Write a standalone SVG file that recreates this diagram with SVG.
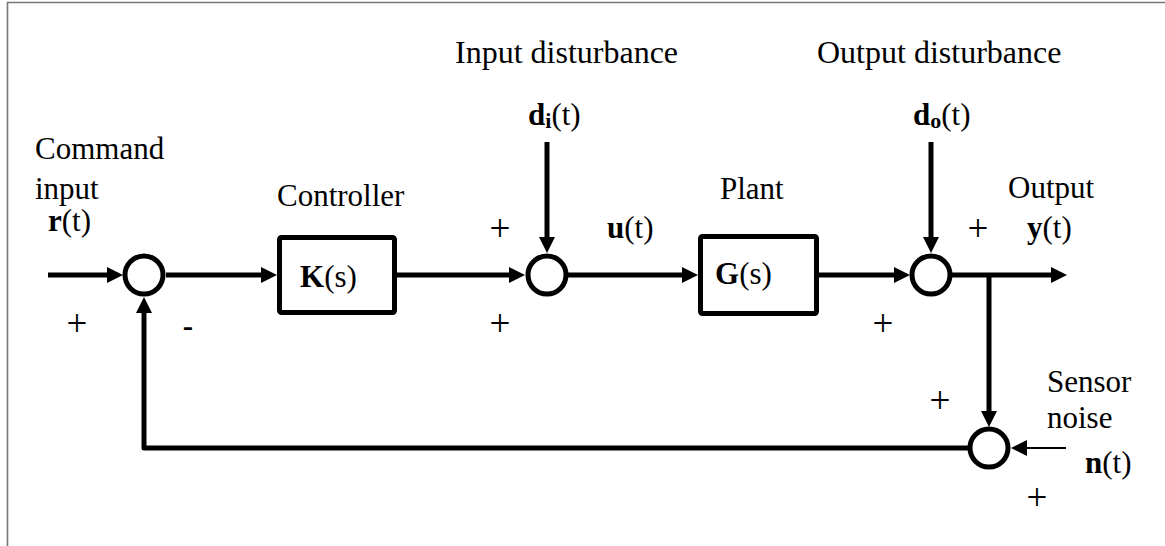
<svg xmlns="http://www.w3.org/2000/svg" width="1165" height="546" viewBox="0 0 1165 546">
<defs>
<marker id="arr" viewBox="0 0 16 16" refX="8" refY="8" markerWidth="16" markerHeight="16" markerUnits="userSpaceOnUse" orient="auto">
<path d="M0,0 L16,8 L0,16 z" fill="#000"/>
</marker>
<style>
text{font-family:"Liberation Serif","Times New Roman",serif;font-size:31px;fill:#000}
.b{font-weight:bold}
.big{font-size:32px}
.sign{font-size:37px}
.minus{font-size:31px;font-weight:bold}
.blk{fill:#fff;stroke:#000;stroke-width:5}
.sum{fill:#fff;stroke:#000;stroke-width:5}
.w{fill:none;stroke:#000;stroke-width:5}
.thin{fill:none;stroke:#000;stroke-width:2}
</style>
</defs>
<rect width="1165" height="546" fill="#fff"/>
<path d="M7.5,546 V2.5 H1165" fill="none" stroke="#777" stroke-width="1.6"/>

<g id="connectors">
<line class="w" x1="48" y1="275" x2="115" y2="275" marker-end="url(#arr)"/>
<line class="w" x1="166" y1="275" x2="269" y2="275" marker-end="url(#arr)"/>
<line class="w" x1="397" y1="275" x2="517" y2="275" marker-end="url(#arr)"/>
<line class="w" x1="547" y1="142" x2="547" y2="245" marker-end="url(#arr)"/>
<line class="w" x1="568" y1="275" x2="690" y2="275" marker-end="url(#arr)"/>
<line class="w" x1="819" y1="275" x2="902" y2="275" marker-end="url(#arr)"/>
<line class="w" x1="931" y1="142" x2="931" y2="245" marker-end="url(#arr)"/>
<line class="w" x1="952" y1="275" x2="1059" y2="275" marker-end="url(#arr)"/>
<line class="w" x1="989" y1="275" x2="989" y2="419" marker-end="url(#arr)"/>
<line class="thin" x1="1066" y1="448" x2="1019" y2="448" marker-end="url(#arr)"/>
<polyline class="w" points="968,448 144,448 144,305" stroke-linejoin="round" marker-end="url(#arr)"/>
</g>

<g id="sum1"><circle class="sum" cx="144" cy="275" r="19"/></g>
<g id="sum2"><circle class="sum" cx="547" cy="275" r="19"/></g>
<g id="sum3"><circle class="sum" cx="931" cy="275" r="19"/></g>
<g id="sum4"><circle class="sum" cx="989" cy="448" r="19"/></g>

<g id="controller">
<rect class="blk" x="279.5" y="237.5" width="115" height="75" rx="2"/>
<text x="300" y="287"><tspan class="b">K</tspan>(s)</text>
<text x="277" y="206">Controller</text>
</g>
<g id="plant">
<rect class="blk" x="700.5" y="236.5" width="116" height="77" rx="2"/>
<text x="715" y="284"><tspan class="b">G</tspan>(s)</text>
<text x="720" y="199">Plant</text>
</g>

<g id="command-input">
<text x="35" y="159">Command</text>
<text x="35" y="199">input</text>
<text x="48" y="231"><tspan class="b">r</tspan>(t)</text>
</g>
<g id="input-disturbance">
<text class="big" x="455" y="63">Input disturbance</text>
<text x="528" y="125"><tspan class="b">d</tspan><tspan class="b" font-size="22" dy="3">i</tspan><tspan dy="-3">(t)</tspan></text>
</g>
<g id="u-label"><text x="607" y="238"><tspan class="b">u</tspan>(t)</text></g>
<g id="output-disturbance">
<text class="big" x="817" y="63">Output disturbance</text>
<text x="913" y="125"><tspan class="b">d</tspan><tspan class="b" font-size="22" dy="3">o</tspan><tspan dy="-3">(t)</tspan></text>
</g>
<g id="output">
<text x="1008" y="198">Output</text>
<text x="1027" y="238"><tspan class="b">y</tspan>(t)</text>
</g>
<g id="sensor-noise">
<text x="1047" y="392">Sensor</text>
<text x="1047" y="428">noise</text>
<text x="1085" y="473"><tspan class="b">n</tspan>(t)</text>
</g>

<g id="signs" text-anchor="middle">
<text class="sign" x="77" y="336">+</text>
<text class="minus" x="188" y="336">-</text>
<text class="sign" x="500" y="241">+</text>
<text class="sign" x="500" y="336">+</text>
<text class="sign" x="978" y="241">+</text>
<text class="sign" x="883" y="336">+</text>
<text class="sign" x="940" y="413">+</text>
<text class="sign" x="1037" y="510">+</text>
</g>
</svg>
